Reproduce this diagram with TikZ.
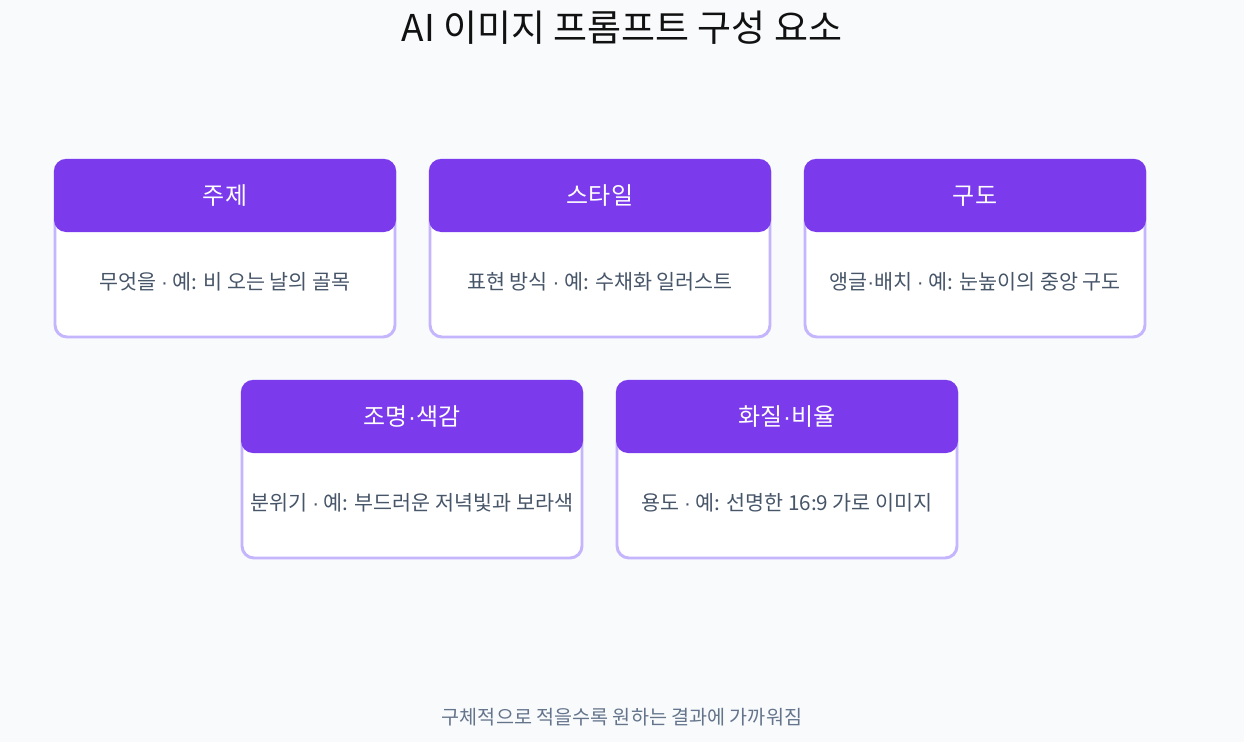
\documentclass[tikz,border=0pt]{standalone}
\usepackage{fontspec}
\setmainfont{Noto Sans CJK KR}
\newfontfamily\dotfont{Liberation Sans}
\newcommand{\md}{{\dotfont ·}}
\definecolor{bgc}{HTML}{F8FAFC}
\definecolor{hdr}{HTML}{7C3AED}
\definecolor{brd}{HTML}{C4B5FD}
\definecolor{bodytxt}{HTML}{475569}
\definecolor{foot}{HTML}{64748B}
\definecolor{ttl}{HTML}{111111}
\tikzset{
  cardbox/.style={draw=brd, line width=2.2pt, fill=white, rounded corners=9pt},
  hdrbox/.style={fill=hdr, rounded corners=9pt},
  hdrtxt/.style={text=white, font=\fontsize{18pt}{22pt}\selectfont, inner sep=0pt},
  bodytext/.style={text=bodytxt, font=\fontsize{15.5pt}{18pt}\selectfont, inner sep=0pt},
}
\newcommand{\mycard}[5]{% name, x0, y0, header, body
  \draw[cardbox] (#2,#3) rectangle ++(340,177);
  \fill[hdrbox] (#2-1,#3-1) rectangle ++(342,73);
  \node[hdrtxt] (#1h) at (#2+170,#3+36) {#4};
  \node[bodytext] (#1b) at (#2+170,#3+122) {#5};
}
\begin{document}
\begin{tikzpicture}[x=0.75pt,y=-0.75pt]
\fill[bgc] (0,0) rectangle (1244,742);
\useasboundingbox (0,0) rectangle (1244,742);
\node[text=ttl, font=\fontsize{27.7pt}{32pt}\selectfont, inner sep=0pt] (title) at (622,28) {AI 이미지 프롬프트 구성 요소};
\mycard{c1}{55}{160}{주제}{무엇을 \md{} 예: 비 오는 날의 골목}
\mycard{c2}{430}{160}{스타일}{표현 방식 \md{} 예: 수채화 일러스트}
\mycard{c3}{805}{160}{구도}{앵글\md{}배치 \md{} 예: 눈높이의 중앙 구도}
\mycard{c4}{242}{381}{조명\md{}색감}{분위기 \md{} 예: 부드러운 저녁빛과 보라색}
\mycard{c5}{617}{381}{화질\md{}비율}{용도 \md{} 예: 선명한 16:9 가로 이미지}
\node[text=foot, font=\fontsize{14.7pt}{17pt}\selectfont, inner sep=0pt] (footer) at (622,717) {구체적으로 적을수록 원하는 결과에 가까워짐};
\end{tikzpicture}
\end{document}
